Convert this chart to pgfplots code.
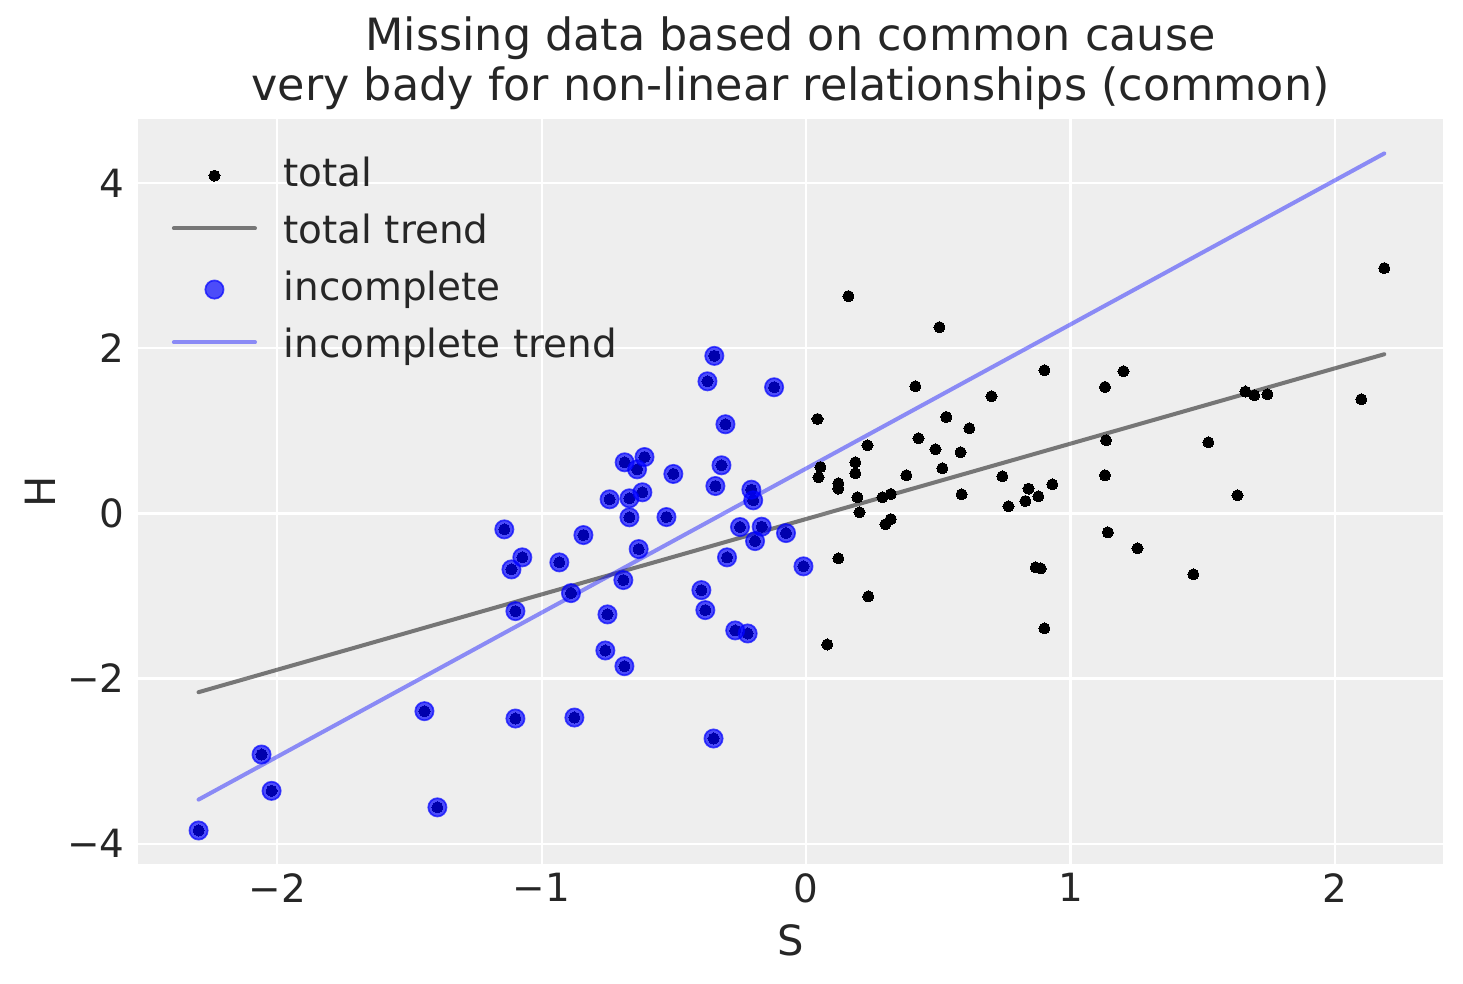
\documentclass[border=0pt]{standalone}
\usepackage{fontspec}
\setmainfont{DejaVu Sans}
\usepackage{pgfplots}
\pgfplotsset{compat=1.18}
\usepackage{pgfplotstable}
\definecolor{bg}{HTML}{EEEEEE}
\definecolor{txt}{HTML}{262626}

\pgfplotstableread{
x y
-2.297 -3.840
-2.059 -2.920
-2.021 -3.360
-1.443 -2.395
-1.394 -3.560
-0.347 1.908
-0.373 1.600
-0.121 1.528
-0.305 1.080
-0.686 0.619
-0.611 0.683
-0.639 0.534
-0.502 0.478
-0.320 0.583
-0.343 0.332
-0.207 0.287
-0.200 0.159
-0.743 0.171
-0.668 0.183
-0.619 0.256
-0.668 -0.047
-0.528 -0.044
-1.141 -0.193
-1.073 -0.532
-1.114 -0.678
-0.933 -0.593
-0.842 -0.262
-0.633 -0.432
-0.250 -0.165
-0.168 -0.161
-0.193 -0.335
-0.076 -0.238
-0.010 -0.641
-0.299 -0.532
-0.691 -0.807
-0.889 -0.965
-1.099 -1.183
-0.751 -1.223
-0.396 -0.929
-0.381 -1.171
-0.268 -1.417
-0.221 -1.454
-0.759 -1.660
-0.687 -1.850
-1.099 -2.484
-0.876 -2.472
-0.350 -2.726
}\incomplete

\pgfplotstableread{
x y
0.160 2.632
0.504 2.256
0.901 1.734
1.130 1.532
0.413 1.540
0.701 1.419
0.043 1.144
0.530 1.168
0.617 1.031
0.425 0.910
0.489 0.777
0.584 0.741
0.232 0.825
0.054 0.562
0.047 0.437
0.186 0.619
0.186 0.486
0.122 0.365
0.122 0.300
0.379 0.462
0.515 0.547
0.194 0.195
0.202 0.013
0.289 0.195
0.320 0.235
0.588 0.231
0.300 -0.132
0.320 -0.068
0.742 0.449
0.765 0.086
0.841 0.300
0.829 0.150
0.878 0.207
0.931 0.352
0.122 -0.545
0.235 -1.005
0.080 -1.587
0.868 -0.654
0.887 -0.666
0.901 -1.393
1.134 0.886
1.130 0.462
1.141 -0.229
2.186 2.971
1.200 1.722
1.661 1.476
1.694 1.431
1.744 1.443
2.099 1.383
1.521 0.861
1.631 0.219
1.253 -0.423
1.464 -0.738
}\complete

\pgfplotsset{
  linelegend/.style={legend image code/.code={\draw[##1, line cap=round] (0pt,1.5pt) -- (29.2pt,1.5pt);}},
  marklegend/.style={legend image code/.code={\path (0pt,0pt) (29.2pt,0pt); \draw[##1, mark repeat=1, mark phase=1] plot coordinates {(14.6pt,0pt)};}},
}

\begin{document}
\begin{tikzpicture}
\begin{axis}[
  scale only axis, width=469.8pt, height=268.2pt,
  xmin=-2.526, xmax=2.408, ymin=-4.246, ymax=4.777,
  axis background/.style={fill=bg},
  axis line style={draw=none},
  major tick length=0pt,
  grid=major, major grid style={white, line width=0.8pt},
  xtick={-2,-1,0,1,2}, xticklabels={−2,−1,0,1,2},
  ytick={-4,-2,0,2,4}, yticklabels={−4,−2,0,2,4},
  tick label style={font=\fontsize{14}{16.8}\selectfont, text=txt},
  xticklabel style={inner sep=0pt, anchor=north, yshift=-3.24pt},
  yticklabel style={inner sep=0pt, anchor=east, xshift=-4.7pt},
  xlabel={S},
  xlabel style={font=\fontsize{15}{18}\selectfont, text=txt, inner sep=0pt, at={([yshift=-27.4pt]axis description cs:0.5,0)}, anchor=center},
  ylabel={H},
  ylabel style={font=\fontsize{15}{18}\selectfont, text=txt, inner sep=0pt, at={([xshift=-35.3pt]axis description cs:0,0.5)}, anchor=center, rotate=0},
  title={Missing data based on common cause\\very bady for non-linear relationships (common)},
  title style={font=\fontsize{16}{18}\selectfont, text=txt, inner sep=0pt, align=center, at={([yshift=-2.9pt]axis description cs:0.5,1)}, anchor=south},
  legend style={draw=none, fill=none, inner sep=0pt, outer sep=0pt,
    at={([xshift=12.2pt,yshift=-13.4pt]axis description cs:0,1)}, anchor=north west,
    font=\fontsize{14}{16.8}\selectfont, text=txt,
    row sep=6.5pt, column sep=9.6pt,
    nodes={inner sep=0pt, text height=11pt, text depth=3pt}},
  legend cell align=left,
]
\addplot[only marks, mark=*, mark size=2pt, mark options={fill=black, draw=black, line width=0pt}, marklegend] table[x=x,y=y] {\complete};
\addlegendentry{total}
\addplot[forget plot, only marks, mark=*, mark size=2pt, mark options={fill=black, draw=black, line width=0pt}] table[x=x,y=y] {\incomplete};
\addplot[black, draw opacity=0.5, line width=1.45pt, line cap=round, linelegend] coordinates {(-2.297,-2.165) (2.186,1.928)};
\addlegendentry{total trend}
\addplot[only marks, mark=*, mark size=3.3pt, mark options={fill=blue, draw=blue, fill opacity=0.68, draw opacity=0.68, line width=0.6pt}, marklegend] table[x=x,y=y] {\incomplete};
\addlegendentry{incomplete}
\addplot[blue, draw opacity=0.42, line width=1.45pt, line cap=round, linelegend] coordinates {(-2.297,-3.466) (2.186,4.360)};
\addlegendentry{incomplete trend}
\coordinate (sw) at (rel axis cs:0,0);
\coordinate (ne) at (rel axis cs:1,1);
\end{axis}
\pgfresetboundingbox
\path ([xshift=-49.68pt,yshift=-42.84pt]sw) rectangle ([xshift=7.2pt,yshift=42.84pt]ne);
\end{tikzpicture}
\end{document}
